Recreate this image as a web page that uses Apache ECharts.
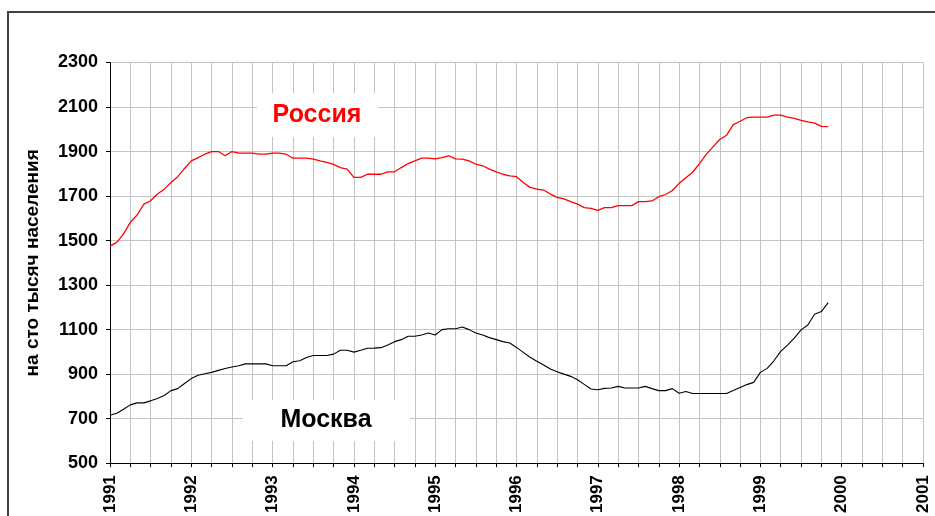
<!DOCTYPE html>
<html>
<head>
<meta charset="utf-8">
<script src="https://cdn.jsdelivr.net/npm/echarts@6/dist/echarts.min.js"></script>
<style>
html,body{margin:0;padding:0;background:#fff;}
#chart{width:935px;height:516px;}
</style>
</head>
<body>
<div id="chart"></div>
<script>
// Monthly values, Jan 1991 .. Nov 1999 (index 0 = Jan 1991)
const startYear = 1991;
const endYear = 2001;
const russia = [
  1475, 1492, 1530, 1582, 1615, 1664, 1679, 1709, 1731, 1761, 1787, 1824,
  1858, 1873, 1888, 1900, 1900, 1881, 1900, 1893, 1893, 1893, 1888, 1888,
  1893, 1893, 1888, 1870, 1870, 1870, 1866, 1858, 1851, 1842, 1828, 1821,
  1784, 1784, 1798, 1798, 1798, 1809, 1809, 1828, 1846, 1858, 1870, 1870,
  1867, 1873, 1881, 1867, 1866, 1858, 1843, 1836, 1821, 1809, 1798, 1791,
  1787, 1761, 1739, 1731, 1727, 1709, 1694, 1687, 1675, 1664, 1648, 1645,
  1636, 1648, 1648, 1657, 1657, 1657, 1675, 1675, 1678, 1697, 1707, 1725,
  1757, 1782, 1807, 1846, 1887, 1921, 1954, 1973, 2021, 2036, 2052, 2055,
  2055, 2055, 2064, 2064, 2055, 2049, 2040, 2033, 2028, 2013, 2012
];
const moscow = [
  715, 724, 742, 762, 771, 771, 780, 791, 804, 826, 835, 858,
  880, 895, 902, 908, 917, 925, 932, 938, 946, 946, 946, 946,
  938, 938, 938, 956, 960, 975, 984, 984, 984, 990, 1007, 1007,
  999, 1007, 1016, 1017, 1019, 1031, 1046, 1055, 1070, 1070, 1076, 1085,
  1076, 1100, 1104, 1104, 1112, 1100, 1085, 1076, 1064, 1055, 1046, 1040,
  1020, 998, 976, 958, 941, 923, 911, 900, 890, 875, 854, 833,
  830, 836, 838, 845, 838, 838, 838, 845, 835, 826, 826, 835,
  814, 822, 813, 813, 813, 813, 813, 813, 826, 840, 853, 863,
  908, 926, 960, 1002, 1030, 1062, 1099, 1121, 1169, 1181, 1221
];
const yMin = 500, yMax = 2300, yStep = 200;
const yAxisTitle = 'на сто тысяч населения';
const labelRussia = 'Россия';
const labelMoscow = 'Москва';

const toPairs = arr => arr.map((v, i) => [i, v]);
const FONT = 'Arial, "Liberation Sans", sans-serif';

const chart = echarts.init(document.getElementById('chart'), null, {renderer: 'canvas'});
chart.setOption({
  animation: false,
  backgroundColor: '#ffffff',
  grid: {left: 110, right: 12, top: 62.5, bottom: 52.5, containLabel: false},
  xAxis: {
    type: 'value',
    min: 0,
    max: (endYear - startYear) * 12,
    interval: 3,
    axisLine: {show: true, lineStyle: {color: '#000', width: 1}},
    axisTick: {show: true, inside: false, length: 4, lineStyle: {color: '#000'}},
    splitLine: {show: true, lineStyle: {color: '#c4c4c4', width: 1}},
    axisLabel: {
      rotate: 90,
      margin: 12,
      color: '#000',
      fontFamily: FONT,
      fontWeight: 'bold',
      fontSize: 17,
      showMinLabel: true,
      showMaxLabel: true,
      formatter: v => (v % 12 === 0 ? String(startYear + v / 12) : '')
    }
  },
  yAxis: {
    type: 'value',
    min: yMin,
    max: yMax,
    interval: yStep,
    name: yAxisTitle,
    nameLocation: 'middle',
    nameRotate: 90,
    nameGap: 68,
    nameTextStyle: {color: '#000', fontFamily: FONT, fontWeight: 'bold', fontSize: 19},
    axisLine: {show: true, lineStyle: {color: '#000', width: 1}},
    axisTick: {show: true, inside: false, length: 4, lineStyle: {color: '#000'}},
    splitLine: {show: true, lineStyle: {color: '#c4c4c4', width: 1}},
    axisLabel: {color: '#000', fontFamily: FONT, fontWeight: 'bold', fontSize: 18, margin: 12,
      formatter: v => String(v)}
  },
  series: [
    {
      name: labelRussia, type: 'line', data: toPairs(russia), symbol: 'none',
      lineStyle: {color: '#ff0000', width: 1.3}, z: 5
    },
    {
      name: labelMoscow, type: 'line', data: toPairs(moscow), symbol: 'none',
      lineStyle: {color: '#000000', width: 1.1}, z: 5
    }
  ],
  graphic: [
    {type: 'rect', z: 1, shape: {x: 257, y: 93, width: 121, height: 44}, style: {fill: '#fff'}},
    {type: 'text', z: 3, x: 317, y: 115, style: {text: labelRussia, fill: '#ff0000', font: 'bold 25px ' + FONT, textAlign: 'center', textVerticalAlign: 'middle'}},
    {type: 'rect', z: 1, shape: {x: 243, y: 400, width: 167, height: 41}, style: {fill: '#fff'}},
    {type: 'text', z: 3, x: 326, y: 420, style: {text: labelMoscow, fill: '#000', font: 'bold 25px ' + FONT, textAlign: 'center', textVerticalAlign: 'middle'}},
    {type: 'rect', z: 10, shape: {x: 8, y: 12, width: 1000, height: 600}, style: {fill: 'none', stroke: '#404040', lineWidth: 2}}
  ]
});
</script>
</body>
</html>
